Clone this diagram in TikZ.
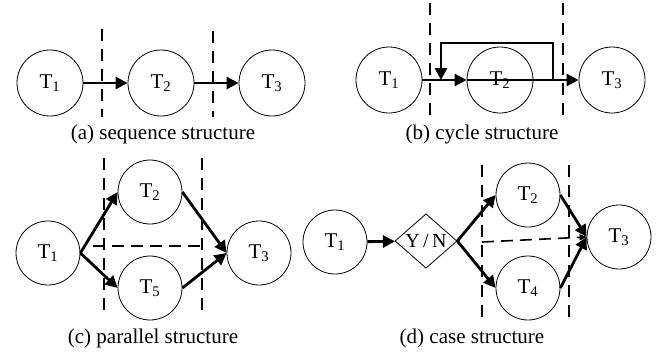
\documentclass[tikz,border=0pt]{standalone}
\usepackage{fontspec}
\setmainfont{Liberation Serif}
\usetikzlibrary{arrows.meta,shapes.geometric}
\begin{document}
\begin{tikzpicture}[x=1pt,y=-1pt,
  task/.style={circle,draw,line width=0.8pt,minimum size=66pt,inner sep=0pt,font=\fontsize{21}{24}\selectfont},
  taskb/.style={task,minimum size=64pt},
  arr/.style={line width=2.8pt,-{Triangle[length=12pt,width=12pt]}},
  flow/.style={line width=2.8pt},
  sep/.style={line width=1.6pt,dash pattern=on 12pt off 8pt},
  hsep/.style={line width=1.6pt,dash pattern=on 12pt off 7pt},
  captext/.style={font=\fontsize{21}{24}\selectfont,inner sep=0pt}]
\useasboundingbox (0,0) rectangle (667,354);
% ---------- (a)
\node[task] (a1) at (50,83) {T\textsubscript{1}};
\node[task] (a2) at (161,83) {T\textsubscript{2}};
\node[task] (a3) at (272,83) {T\textsubscript{3}};
\coordinate (as1t) at (102,29); \coordinate (as1b) at (102,117);
\coordinate (as2t) at (213,31); \coordinate (as2b) at (213,117);
\draw[sep] (as1t) -- (as1b);
\draw[sep] (as2t) -- (as2b);
\draw[arr] (a1) -- (a2);
\draw[arr] (a2) -- (a3);
\node[captext] (acap) at (163,134) {(a) sequence structure};
% ---------- (b)
\node[task] (b1) at (389,80) {T\textsubscript{1}};
\node[task] (b2) at (500,80) {T\textsubscript{2}};
\node[task] (b3) at (612,80) {T\textsubscript{3}};
\coordinate (bs1t) at (430,3); \coordinate (bs1b) at (430,115);
\coordinate (bs2t) at (563,3); \coordinate (bs2b) at (563,115);
\draw[sep] (bs1t) -- (bs1b);
\draw[sep] (bs2t) -- (bs2b);
\draw[arr] (b1) -- (b2);
\draw[arr] (b2.west) -- (b3.west);
\coordinate (bl1) at (553,80);
\coordinate (bl2) at (441,80);
\draw[flow,-{Triangle[length=12pt,width=12pt]}] (bl1) -- (553,43) -- (441,43) -- (bl2);
\node[captext] (bcap) at (482,134) {(b) cycle structure};
% ---------- (c)
\node[taskb] (c1) at (48,253) {T\textsubscript{1}};
\node[taskb] (c2) at (150,192) {T\textsubscript{2}};
\node[taskb] (c5) at (150,288) {T\textsubscript{5}};
\node[taskb] (c3) at (259,253) {T\textsubscript{3}};
\coordinate (cs1t) at (104,158); \coordinate (cs1b) at (104,317);
\coordinate (cs2t) at (202,158); \coordinate (cs2b) at (202,317);
\draw[sep] (cs1t) -- (cs1b);
\draw[sep] (cs2t) -- (cs2b);
\coordinate (ch1) at (93,246); \coordinate (ch2) at (205,246);
\draw[hsep] (ch1) -- (ch2);
\draw[arr] (c1.east) -- (c2.west);
\draw[arr] (c1.east) -- (c5.west);
\draw[arr] (c2.east) -- (c3.west);
\draw[arr] (c5.east) -- (c3.west);
\node[captext] (ccap) at (153,338) {(c) parallel structure};
% ---------- (d)
\node[taskb] (d1) at (335,242) {T\textsubscript{1}};
\node[diamond,draw,line width=0.8pt,minimum width=62pt,minimum height=37pt,inner sep=0pt,font=\fontsize{20}{22}\selectfont] (dd) at (426,241) {Y\,/\,N};
\node[taskb] (d2) at (528,195) {T\textsubscript{2}};
\node[taskb] (d4) at (528,288) {T\textsubscript{4}};
\node[taskb] (d3) at (619,237) {T\textsubscript{3}};
\coordinate (ds1t) at (482,165); \coordinate (ds1b) at (482,317);
\coordinate (ds2t) at (569,165); \coordinate (ds2b) at (569,317);
\draw[sep] (ds1t) -- (ds1b);
\draw[sep] (ds2t) -- (ds2b);
\coordinate (dh1) at (482,242);
\draw[hsep,-{Triangle[length=7pt,width=6pt]}] (dh1) -- (d3.west);
\draw[arr] (d1) -- (dd);
\draw[arr] (dd.east) -- (d2.west);
\draw[arr] (dd.east) -- (d4.west);
\draw[arr] (d2.east) -- (d3.west);
\draw[arr] (d4.east) -- (d3.west);
\node[captext] (dcap) at (472,338) {(d) case structure};
\end{tikzpicture}
\end{document}
